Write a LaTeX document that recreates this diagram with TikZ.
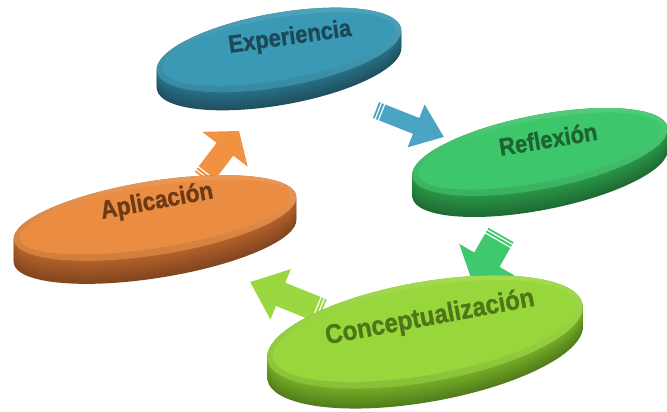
\documentclass[tikz,border=0pt]{standalone}
\usepackage{fontspec}
\setmainfont{Liberation Sans}
\newfontfamily\heavyfont[FakeBold=1.2]{Liberation Sans Bold}
\usetikzlibrary{arrows.meta,decorations.markings,calc}

\definecolor{eTop}{RGB}{58,153,180}
\definecolor{eSide}{RGB}{42,112,134}
\definecolor{eText}{RGB}{28,72,88}
\definecolor{rTop}{RGB}{62,199,106}
\definecolor{rSide}{RGB}{42,150,72}
\definecolor{rText}{RGB}{28,100,50}
\definecolor{cTop}{RGB}{152,215,60}
\definecolor{cSide}{RGB}{116,174,38}
\definecolor{cText}{RGB}{78,118,24}
\definecolor{aTop}{RGB}{234,140,66}
\definecolor{aSide}{RGB}{180,98,42}
\definecolor{aText}{RGB}{108,58,20}
\definecolor{arBlue}{RGB}{74,165,194}
\definecolor{arGreen}{RGB}{64,200,110}
\definecolor{arLime}{RGB}{155,215,64}
\definecolor{arOrange}{RGB}{240,146,66}

% #1 cx, #2 cy, #3 a, #4 b, #5 angle, #6 thickness, #7 colour prefix
\newcommand\mydisc[7]{%
  \foreach \k in {#6,...,0}{%
    \pgfmathtruncatemacro\m{72+28*(#6-\k)/#6}%
    \fill[#7Side!\m!black, rotate around={#5:(#1,#2+\k)}] (#1,#2+\k) ellipse [x radius=#3, y radius=#4];
  }%
  \shade[rotate around={#5:(#1,#2)}, top color=#7Top!90!white, bottom color=#7Top!88!black]
     (#1,#2) ellipse [x radius=#3, y radius=#4];
  \fill[#7Top, rotate around={#5:(#1,#2)}] (#1,#2-1) ellipse [x radius=#3-6, y radius=#4-6];
}

\tikzset{
  blockarrow/.style n args={4}{draw=#1, line width=#2pt, -{Triangle[width=#3pt,length=#4pt]},
    postaction={decorate, decoration={markings,
      mark=at position 2.5pt with {\draw[white, line width=1.2pt, -] (0,{-#2/2-0.5}) -- (0,{#2/2+0.5});},
      mark=at position 6pt with {\draw[white, line width=1.2pt, -] (0,{-#2/2-0.5}) -- (0,{#2/2+0.5});}}}},
  lbl/.style={font=\heavyfont\fontsize{#1}{#1}\selectfont, inner sep=0pt}
}

\begin{document}
\begin{tikzpicture}[x=1pt,y=-1pt]
\fill[white] (0,0) rectangle (667,412);
\useasboundingbox (0,0) rectangle (667,412);

% arrow end points
\coordinate (b1) at (376,110); \coordinate (b2) at (444,137);
\coordinate (g1) at (501,235); \coordinate (g2) at (473,284);
\coordinate (l1) at (322,311); \coordinate (l2) at (250,282);
\coordinate (o1) at (203,178); \coordinate (o2) at (239,131);

% arrows (behind the discs)
\draw[blockarrow={arBlue}{17}{44}{30}] (b1) -- (b2);
\draw[blockarrow={arGreen}{29}{62}{28}] (g1) -- (g2);
\draw[blockarrow={arLime}{25}{52}{33}] (l1) -- (l2);
\draw[blockarrow={arOrange}{21}{56}{23}] (o1) -- (o2);

% discs
\mydisc{279}{50}{124}{37}{10}{18}{e}
\mydisc{540}{152}{130}{37}{11}{21}{r}
\mydisc{155}{218}{143}{37}{9}{23}{a}
\mydisc{425}{332}{160}{50}{10}{20}{c}

% labels
\node[lbl=22, text=eText, rotate=8, yscale=1.12] (tE) at (290,38) {Experiencia};
\node[lbl=22, text=rText, rotate=9.5, yscale=1.12] (tR) at (548,139) {Reflexión};
\node[lbl=22.5, text=aText, rotate=10.5, yscale=1.12] (tA) at (157,202) {Aplicación};
\node[lbl=24, text=cText, rotate=10.5, yscale=1.12] (tC) at (430,318) {Conceptualización};
\end{tikzpicture}
\end{document}
